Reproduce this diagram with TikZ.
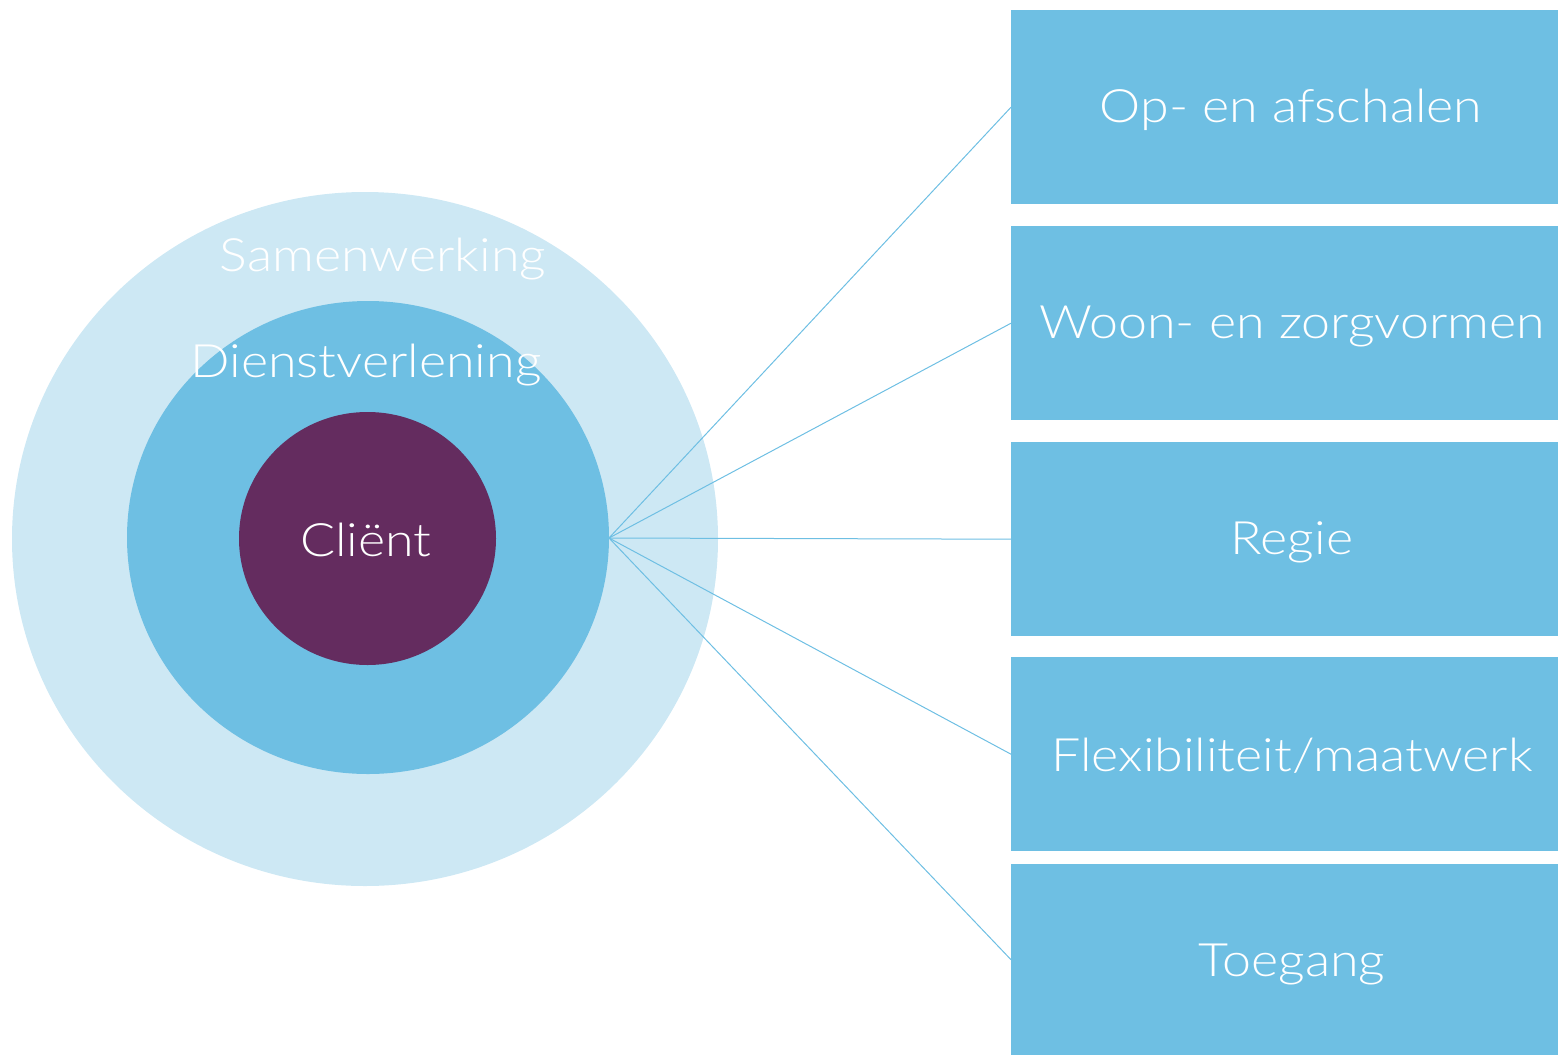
\documentclass[tikz,border=0pt]{standalone}
\usepackage{fontspec}
\setmainfont{Lato}[UprightFont={* Light}]
\newfontfamily\lblfont{Lato}[UprightFont={* Light},FakeStretch=1.13]
\definecolor{lightblue}{HTML}{CDE8F4}
\definecolor{midblue}{HTML}{6EBFE3}
\definecolor{purple}{HTML}{642C5F}
\begin{document}
\begin{tikzpicture}[x=1pt,y=-1pt,
  box/.style={fill=midblue,draw=none,minimum width=547pt,minimum height=194pt,inner sep=0pt,anchor=north west},
  lbl/.style={text=white,inner sep=0pt,font=\lblfont\fontsize{46}{52}\selectfont},
  link/.style={draw=midblue,line width=1pt}]
\useasboundingbox (0,0) rectangle (1558,1055);
\fill[lightblue] (365,539) ellipse [x radius=353,y radius=347];
\fill[midblue] (368,537.5) ellipse [x radius=241,y radius=236.5];
\fill[purple] (367.5,538.5) ellipse [x radius=128.5,y radius=126.5];
\coordinate (hub) at (609,538);
\node[box] (b1) at (1011,10) {};
\node[box] (b2) at (1011,226) {};
\node[box] (b3) at (1011,442) {};
\node[box] (b4) at (1011,657) {};
\node[box,minimum height=191pt] (b5) at (1011,864) {};
\node[lbl] (t1) at (1291,110) {Op- en afschalen};
\node[lbl] (t2) at (1292,326) {Woon- en zorgvormen};
\node[lbl] (t3) at (1292,542) {Regie};
\node[lbl] (t4) at (1292,756) {Flexibiliteit/maatwerk};
\node[lbl] (t5) at (1292,964) {Toegang};
\node[lbl] (sam) at (383,259) {Samenwerking};
\node[lbl] (dien) at (366,365) {Dienstverlening};
\node[lbl] (cli) at (366,540) {Cliënt};
\draw[link] (hub) -- (b1.west);
\draw[link] (hub) -- (b2.west);
\draw[link] (hub) -- (b3.west);
\draw[link] (hub) -- (b4.west);
\draw[link] (hub) -- (b5.west);
\end{tikzpicture}
\end{document}
